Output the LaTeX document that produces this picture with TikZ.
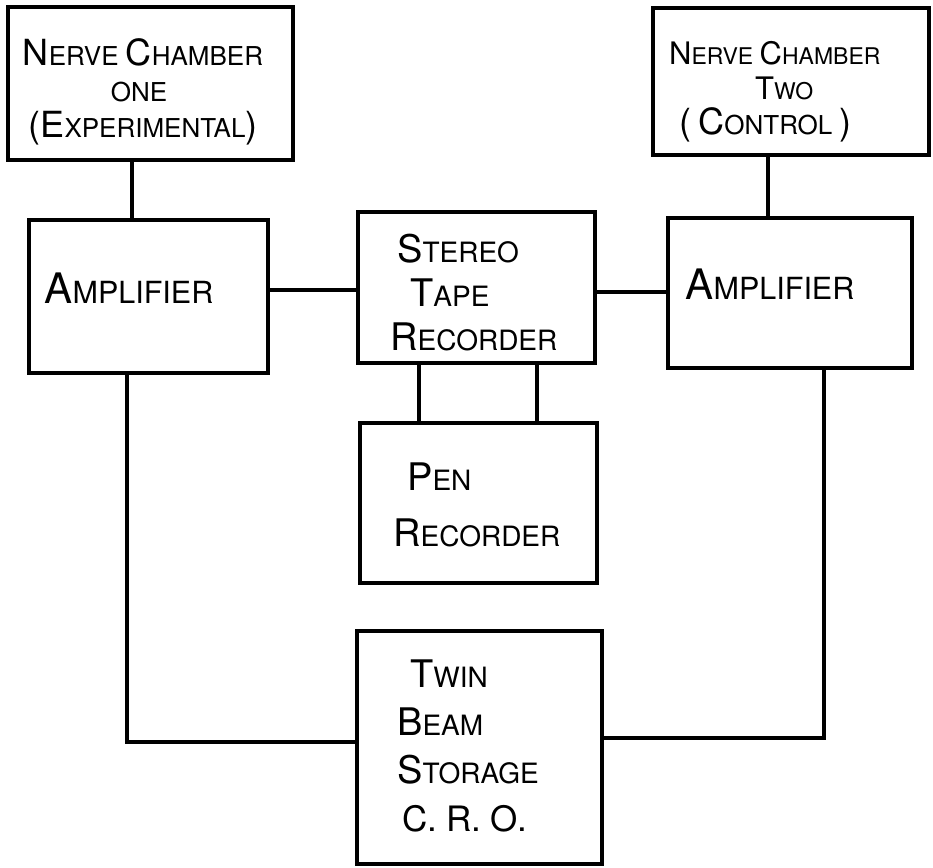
\documentclass[tikz,border=0pt]{standalone}
\usepackage{fontspec}
\setmainfont{TeX Gyre Heros}
\def\hbsz{36}
\newcommand\hbig[1]{{\fontsize{\hbsz}{40}\selectfont #1}}
\begin{document}
\begin{tikzpicture}[x=1pt,y=-1pt,
  box/.style={draw, line width=4.5pt, rectangle, outer sep=0pt, inner sep=0pt},
  wire/.style={line width=4.5pt},
  lbl/.style n args={3}{font=\def\hbsz{#1}\fontsize{#2}{#3}\selectfont, inner sep=0pt}]
\useasboundingbox[fill=white] (0,0) rectangle (933,867);

% boxes
\node[box, minimum width=285pt, minimum height=153pt] (nc1) at (150.5,83.5) {};
\node[box, minimum width=276pt, minimum height=147pt] (nc2) at (791,81.5) {};
\node[box, minimum width=239pt, minimum height=153pt] (ampL) at (148.5,296.5) {};
\node[box, minimum width=237pt, minimum height=151pt] (str) at (476.5,287.5) {};
\node[box, minimum width=244pt, minimum height=150pt] (ampR) at (790,293) {};
\node[box, minimum width=237pt, minimum height=160pt] (pen) at (478.5,503) {};
\node[box, minimum width=245pt, minimum height=233pt] (cro) at (479.5,747.5) {};

% labels
\node[lbl={36}{26}{36}, align=center] (nc1t) at (143,92) {\hbig{N}ERVE \hbig{C}HAMBER\\\hspace*{-8pt}ONE\\\hbig{(}\hbig{E}XPERIMENTAL\hbig{)}};
\node[lbl={31}{23}{35}, align=left, anchor=west] (nc2t) at (669,92) {\hbig{N}ERVE \hbig{C}HAMBER\\\hspace*{86pt}\hbig{T}WO\\\hspace*{10pt}{\def\hbsz{36}\fontsize{26}{36}\selectfont\hbig{(} \hbig{C}ONTROL \hbig{)}}};
\node[lbl={42}{30.5}{40}] (ampLt) at (129,288) {\hbig{A}MPLIFIER};
\node[lbl={38}{28}{44}, align=left, anchor=west] (strt) at (390,293) {\hspace*{7pt}\hbig{S}TEREO\\\hspace*{20pt}\hbig{T}APE\\\hbig{R}ECORDER};
\node[lbl={42}{30.5}{40}] (ampRt) at (770,284) {\hbig{A}MPLIFIER};
\node[lbl={38}{28}{56}, align=left, anchor=west] (pent) at (393,505) {\hspace*{14pt}\hbig{P}EN\\\hbig{R}ECORDER};
\node[lbl={38}{28}{48}, align=left, anchor=west] (crot) at (397,746) {\hspace*{13pt}\hbig{T}WIN\\\hbig{B}EAM\\\hbig{S}TORAGE\\\hspace*{5pt}{\fontsize{35}{48}\selectfont C.\hspace{9pt}R.\hspace{9pt}O.}};

% connector columns / rows
\coordinate (k1) at (132,0);
\coordinate (k2) at (768,0);
\coordinate (k3) at (419,0);
\coordinate (k4) at (537,0);
\coordinate (k5) at (127,0);
\coordinate (k6) at (824,0);
\coordinate (r1) at (0,290);
\coordinate (r2) at (0,292);
\coordinate (r3) at (0,742);
\coordinate (r4) at (0,738);

% connectors
\draw[wire] (nc1.south -| k1) -- (ampL.north -| k1);
\draw[wire] (nc2.south -| k2) -- (ampR.north -| k2);
\draw[wire] (ampL.east |- r1) -- (str.west |- r1);
\draw[wire] (str.east |- r2) -- (ampR.west |- r2);
\draw[wire] (str.south -| k3) -- (pen.north -| k3);
\draw[wire] (str.south -| k4) -- (pen.north -| k4);
\draw[wire] (ampL.south -| k5) |- (cro.west |- r3);
\draw[wire] (ampR.south -| k6) |- (cro.east |- r4);
\end{tikzpicture}
\end{document}
